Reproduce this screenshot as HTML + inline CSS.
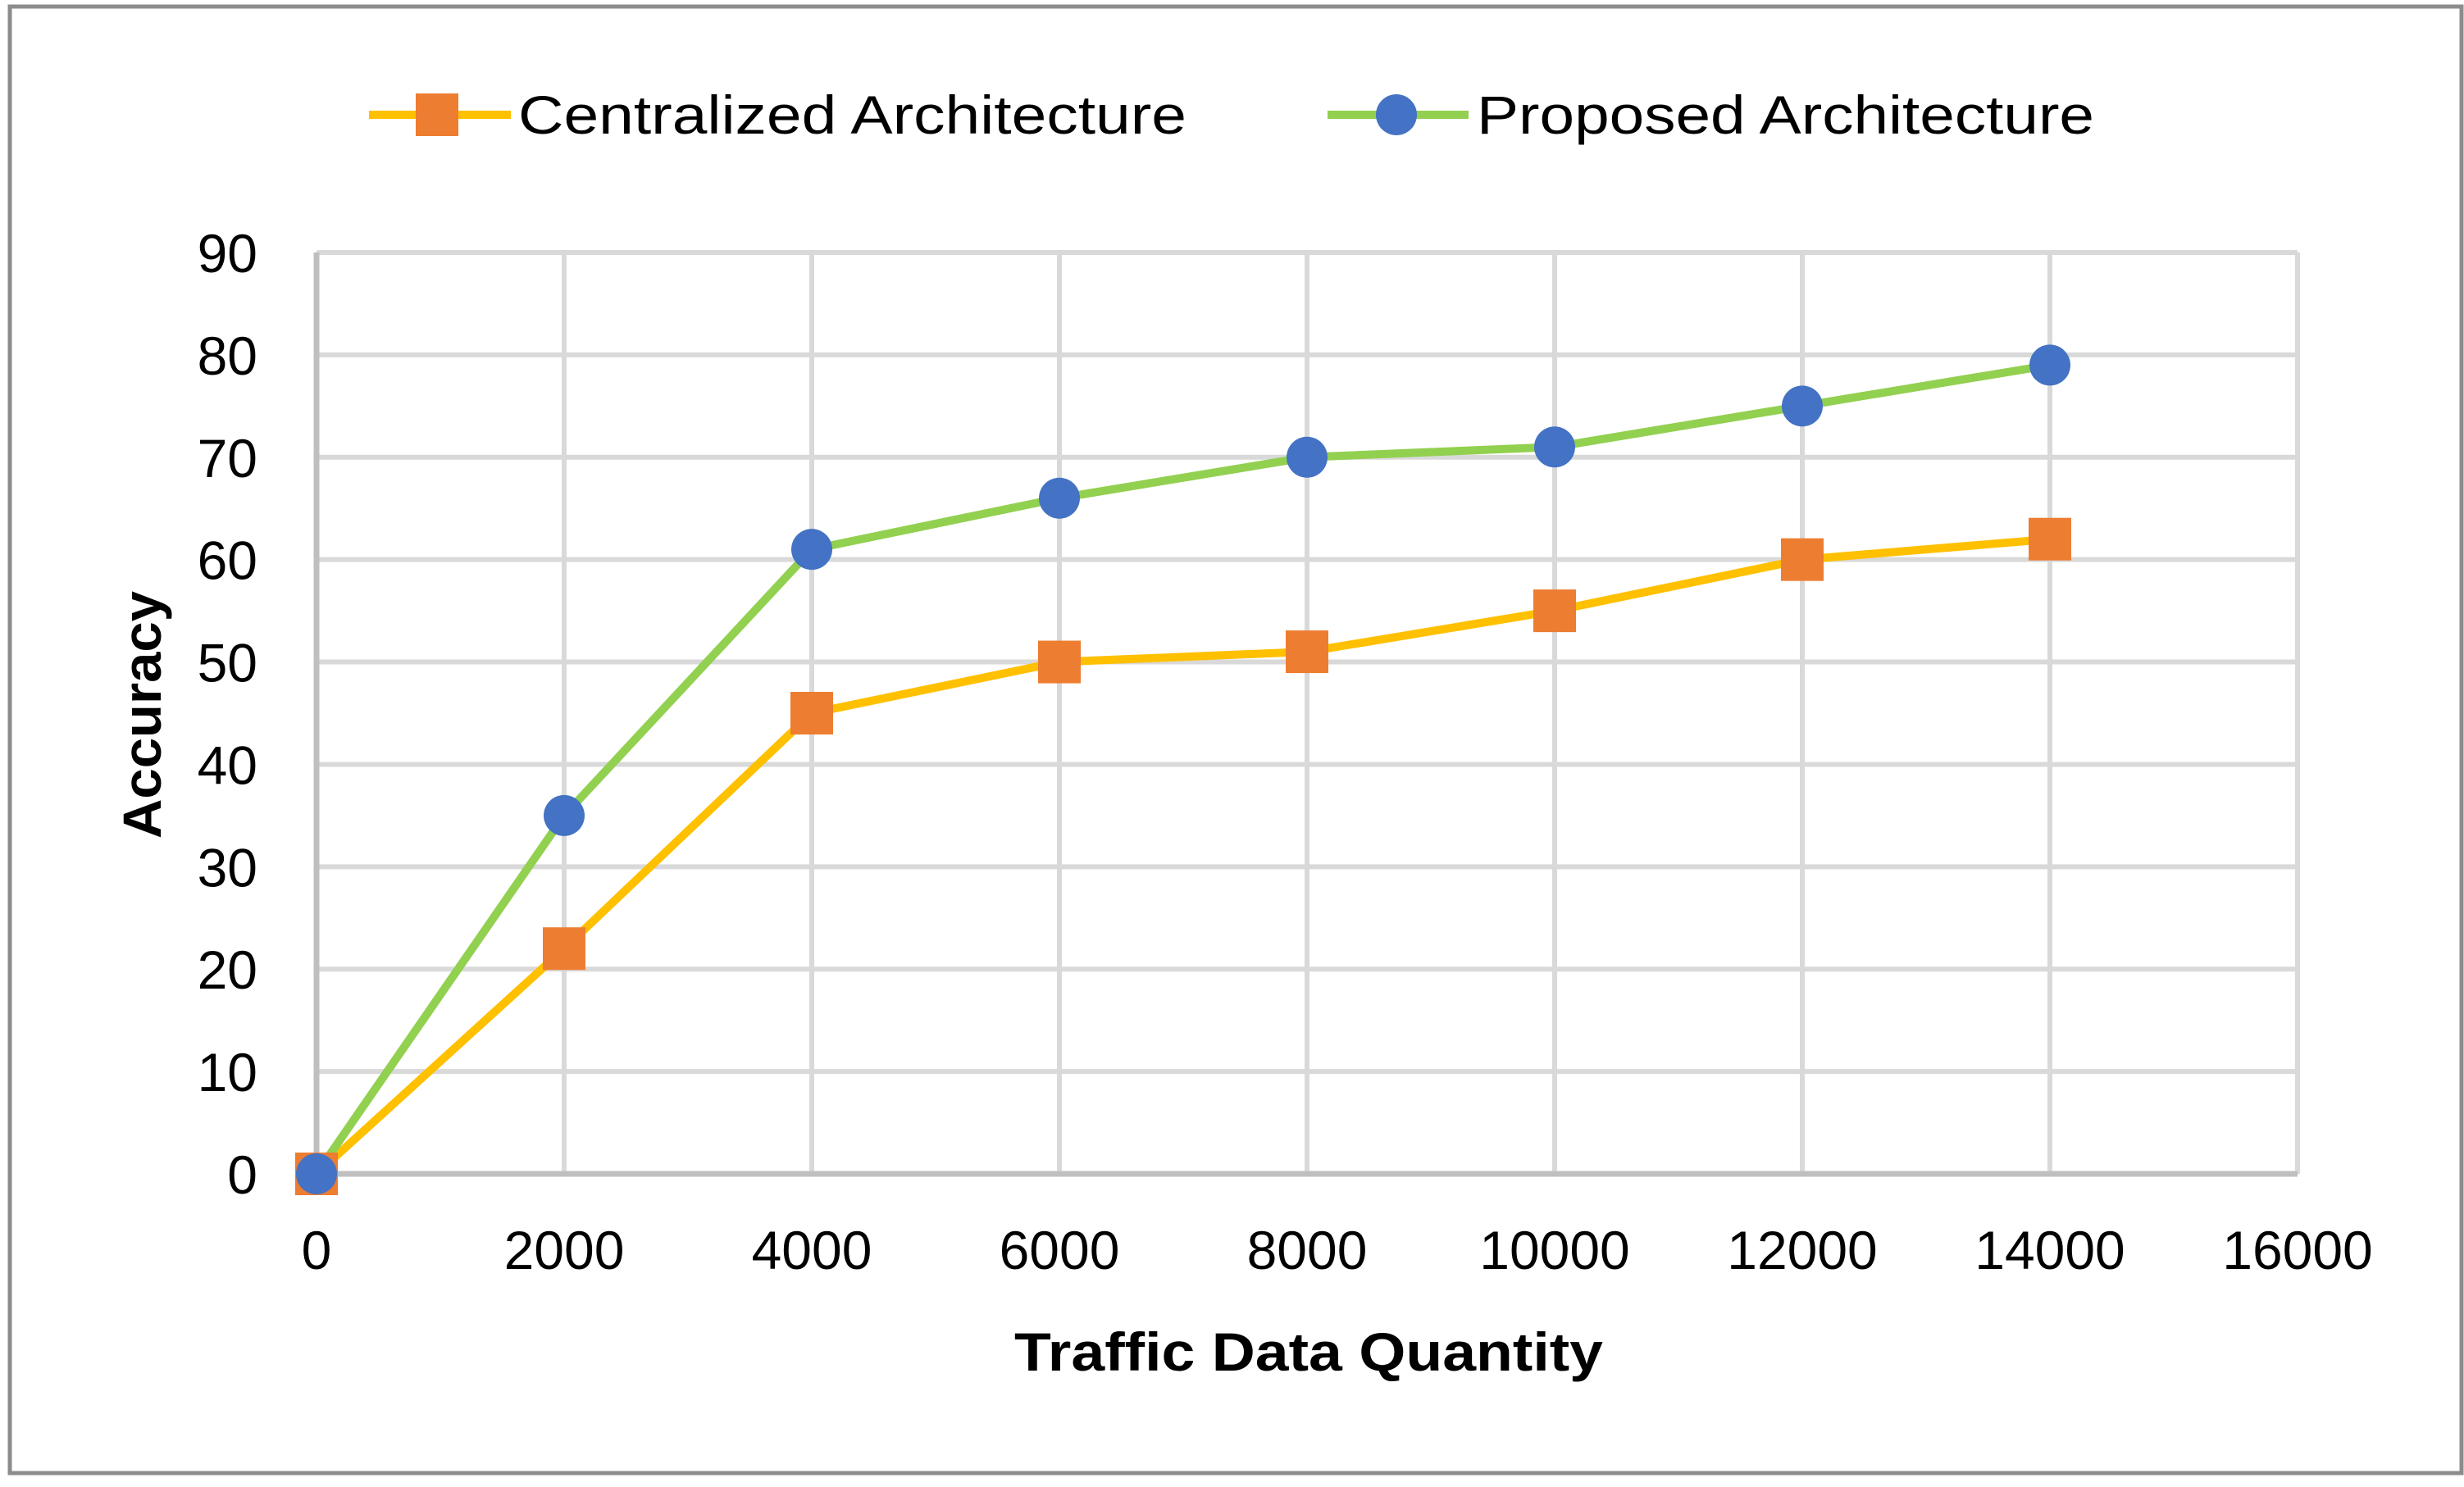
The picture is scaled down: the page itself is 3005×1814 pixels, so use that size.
<!DOCTYPE html>
<html><head><meta charset="utf-8"><style>
html,body{margin:0;padding:0;background:#fff;}
svg{display:block;font-family:"Liberation Sans",sans-serif;}
</style></head><body>
<svg id="chart" width="3005" height="1814" viewBox="0 0 3005 1814" xmlns="http://www.w3.org/2000/svg">
<rect x="12" y="8" width="2990" height="1789" fill="#fff" stroke="#8c8c8c" stroke-width="5"/>
<g id="grid"></g>
<g id="lines"></g>
<g id="ticks"></g>
<text transform="translate(196,872) rotate(-90)" text-anchor="middle" font-size="66" font-weight="bold" textLength="302" lengthAdjust="spacingAndGlyphs">Accuracy</text>
<text x="1596" y="1672" text-anchor="middle" font-size="66" font-weight="bold" textLength="718" lengthAdjust="spacingAndGlyphs">Traffic Data Quantity</text>
<g>
<g>
<line x1="450" y1="140" x2="623" y2="140" stroke="#ffc000" stroke-width="10"/>
<rect x="507" y="114" width="52" height="52" fill="#ed7d31"/>
<text x="632" y="163" font-size="66" textLength="815" lengthAdjust="spacingAndGlyphs">Centralized Architecture</text>
</g>
<g>
<line x1="1619" y1="140" x2="1791" y2="140" stroke="#92d050" stroke-width="10"/>
<circle cx="1703" cy="140" r="25" fill="#4472c4"/>
<text x="1801" y="163" font-size="66" textLength="753" lengthAdjust="spacingAndGlyphs">Proposed Architecture</text>
</g>
</g>
</svg>
<script>
const xCategories = [0, 2000, 4000, 6000, 8000, 10000, 12000, 14000];
const centralizedValues = [0, 22, 45, 50, 51, 55, 60, 62];
const proposedValues = [0, 35, 61, 66, 70, 71, 75, 79];
const xTickLabels = [0, 2000, 4000, 6000, 8000, 10000, 12000, 14000, 16000];
const yTickLabels = [0, 10, 20, 30, 40, 50, 60, 70, 80, 90];

const NS = "http://www.w3.org/2000/svg";
const X0 = 386, X1 = 2802, Y0 = 1432, Y1 = 308;
const xMax = 16000, yMax = 90;
function sx(v){ return X0 + (X1 - X0) * v / xMax; }
function sy(v){ return Y0 - (Y0 - Y1) * v / yMax; }
function mk(tag, attrs, parent){ const e = document.createElementNS(NS, tag); for (const k in attrs) e.setAttribute(k, attrs[k]); parent.appendChild(e); return e; }

const grid = document.getElementById('grid');
const ticks = document.getElementById('ticks');
const lines = document.getElementById('lines');

yTickLabels.forEach(v => {
  if (v > 0) {
    const g = mk('line', {x1: X0, x2: X1, y1: sy(v), y2: sy(v), stroke: '#d9d9d9', 'stroke-width': 6}, grid);
    
    
  }
  const t = mk('text', {x: 314, y: sy(v) + 24, 'text-anchor': 'end', 'font-size': 66}, ticks);
  t.textContent = v;
  
  
});
xTickLabels.forEach(v => {
  if (v > 0) {
    const g = mk('line', {x1: sx(v), x2: sx(v), y1: Y1, y2: Y0, stroke: '#d9d9d9', 'stroke-width': 6}, grid);
    
    
  }
  const t = mk('text', {x: sx(v), y: 1548, 'text-anchor': 'middle', 'font-size': 66}, ticks);
  t.textContent = v;
  
  
});
const ya = mk('line', {x1: X0, x2: X0, y1: Y1, y2: Y0, stroke: '#bfbfbf', 'stroke-width': 7}, grid);


const xa = mk('line', {x1: X0, x2: X1, y1: Y0, y2: Y0, stroke: '#bfbfbf', 'stroke-width': 7}, grid);



function ptsOf(vals){ return xCategories.map((x, i) => sx(x) + ',' + sy(vals[i])).join(' '); }
const lc = mk('polyline', {points: ptsOf(centralizedValues), fill: 'none', stroke: '#ffc000', 'stroke-width': 10, 'stroke-linejoin': 'round'}, lines);


const lp = mk('polyline', {points: ptsOf(proposedValues), fill: 'none', stroke: '#92d050', 'stroke-width': 10, 'stroke-linejoin': 'round'}, lines);


xCategories.forEach((x, i) => {
  const r = mk('rect', {x: sx(x) - 26, y: sy(centralizedValues[i]) - 26, width: 52, height: 52, fill: '#ed7d31'}, lines);
  
  
});
xCategories.forEach((x, i) => {
  const c = mk('circle', {cx: sx(x), cy: sy(proposedValues[i]), r: 25, fill: '#4472c4'}, lines);
  
  
});
</script>
</body></html>
